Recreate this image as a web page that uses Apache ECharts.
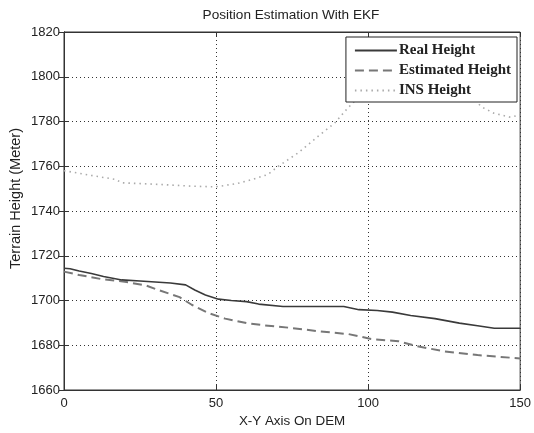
<!DOCTYPE html>
<html>
<head>
<meta charset="utf-8">
<script src="https://cdn.jsdelivr.net/npm/echarts@6/dist/echarts.min.js"></script>
<style>html,body{margin:0;padding:0;background:#fff;}#c{width:534px;height:433px;}</style>
</head>
<body>
<div id="c"></div>
<script>
var seriesNames = ["Real Height", "Estimated Height", "INS Height"];
var realX = [0, 2, 5, 9, 13, 19, 25, 35, 40, 43, 46.5, 50.8, 55, 60, 64, 72, 92, 97, 103, 108, 114, 122, 130, 136, 141.5, 150];
var realY = [1714.4, 1714.2, 1713.2, 1712.1, 1710.7, 1709.2, 1708.7, 1707.8, 1707, 1704.7, 1702.5, 1700.6, 1700, 1699.5, 1698.4, 1697.3, 1697.3, 1695.9, 1695.5, 1694.8, 1693.3, 1691.9, 1689.9, 1688.7, 1687.6, 1687.6];
var estX = [0, 5, 12.6, 20, 27, 31, 38, 42, 47.5, 53, 60, 66, 75, 84, 93.5, 101, 110, 116, 125, 136, 150];
var estY = [1712.9, 1711.4, 1709.5, 1708.4, 1706.7, 1704.7, 1701.5, 1698.1, 1694.4, 1691.9, 1689.9, 1688.9, 1687.7, 1686.2, 1685, 1682.8, 1681.8, 1679.6, 1677.3, 1675.6, 1674.1];
var insX = [0, 1, 9, 17, 19, 31, 42, 50, 57, 62, 67, 70.5, 77, 83.5, 89, 93.3, 95.5, 100, 110, 118, 127, 133, 137.5, 141.4, 146.8, 150];
var insY = [1758, 1757.8, 1755.9, 1754.1, 1752.6, 1751.9, 1751.1, 1750.8, 1752.3, 1754.1, 1756.3, 1760, 1766, 1773.3, 1779.3, 1786, 1789, 1795, 1802, 1804, 1800, 1792, 1786.4, 1783.7, 1781.9, 1783];
var titleText = 'Position Estimation With EKF';
var xName = 'X-Y Axis On DEM';
var yName = 'Terrain Height (Meter)';

function pairs(xs, ys) { return xs.map(function (x, i) { return [x, ys[i]]; }); }

var chart = echarts.init(document.getElementById('c'), null, {renderer: 'canvas'});
var axisCol = '#333';
var sans = 'Liberation Sans, Arial, sans-serif';
var option = {
  animation: false,
  backgroundColor: '#fff',
  title: {
    text: titleText,
    left: 286, textAlign: 'center', top: 3,
    textStyle: {fontFamily: sans, fontSize: 13.6, fontWeight: 'normal', color: '#222'}
  },
  graphic: [{
    type: 'text', left: 8, top: 128, rotation: Math.PI / 2,
    style: {text: yName, font: '14.5px "Liberation Sans", Arial, sans-serif', fill: '#222'}
  }],
  legend: {
    orient: 'vertical',
    right: 17, top: 37,
    padding: [6, 6, 4, 8],
    itemGap: 5,
    itemWidth: 42, itemHeight: 15,
    backgroundColor: '#fff',
    borderColor: '#222', borderWidth: 1,
    itemStyle: {opacity: 0},
    data: seriesNames,
    textStyle: {fontFamily: 'Liberation Serif, Times New Roman, serif', fontWeight: 'bold', fontSize: 15, color: '#222', padding: [0, 0, 0, -3]}
  },
  grid: {left: 64, right: 10, top: 32, bottom: 41, show: true, borderColor: axisCol, borderWidth: 1, backgroundColor: '#fff'},
  xAxis: [{
    type: 'value', min: 0, max: 150, interval: 50,
    name: xName, nameLocation: 'middle', nameGap: 25,
    nameTextStyle: {fontFamily: sans, fontSize: 13.4, color: '#222'},
    axisLine: {show: true, lineStyle: {color: axisCol}},
    axisTick: {show: true, inside: true, length: 5, lineStyle: {color: axisCol}},
    axisLabel: {fontFamily: sans, fontSize: 13, color: '#222', margin: 7},
    splitLine: {show: true, lineStyle: {color: '#333', type: [1, 3], width: 1}}
  }, {
    type: 'value', min: 0, max: 150, interval: 50, position: 'top',
    axisLine: {show: true, lineStyle: {color: axisCol}},
    axisTick: {show: true, inside: true, length: 5, lineStyle: {color: axisCol}},
    axisLabel: {show: false}, splitLine: {show: false}
  }],
  yAxis: [{
    type: 'value', min: 1660, max: 1820, interval: 20,
    axisLine: {show: true, lineStyle: {color: axisCol}},
    axisTick: {show: true, inside: true, length: 5, lineStyle: {color: axisCol}},
    axisLabel: {fontFamily: sans, fontSize: 13, color: '#222', margin: 4, formatter: function (v) { return String(v); }},
    splitLine: {show: true, lineStyle: {color: '#333', type: [1, 3], width: 1}}
  }, {
    type: 'value', min: 1660, max: 1820, interval: 20, position: 'right',
    axisLine: {show: true, lineStyle: {color: axisCol}},
    axisTick: {show: true, inside: true, length: 5, lineStyle: {color: axisCol}},
    axisLabel: {show: false}, splitLine: {show: false}
  }],
  series: [
    {name: seriesNames[0], type: 'line', data: pairs(realX, realY), symbol: 'none', z: 3,
     lineStyle: {color: '#3a3a3a', width: 1.6}, itemStyle: {color: '#3a3a3a'}},
    {name: seriesNames[1], type: 'line', data: pairs(estX, estY), symbol: 'none', z: 2,
     lineStyle: {color: '#777', width: 2, type: [9, 5]}, itemStyle: {color: '#777'}},
    {name: seriesNames[2], type: 'line', data: pairs(insX, insY), symbol: 'none', z: 2,
     lineStyle: {color: '#aaa', width: 1.6, type: [1.5, 4]}, itemStyle: {color: '#aaa'}}
  ]
};
chart.setOption(option);
</script>
</body>
</html>
